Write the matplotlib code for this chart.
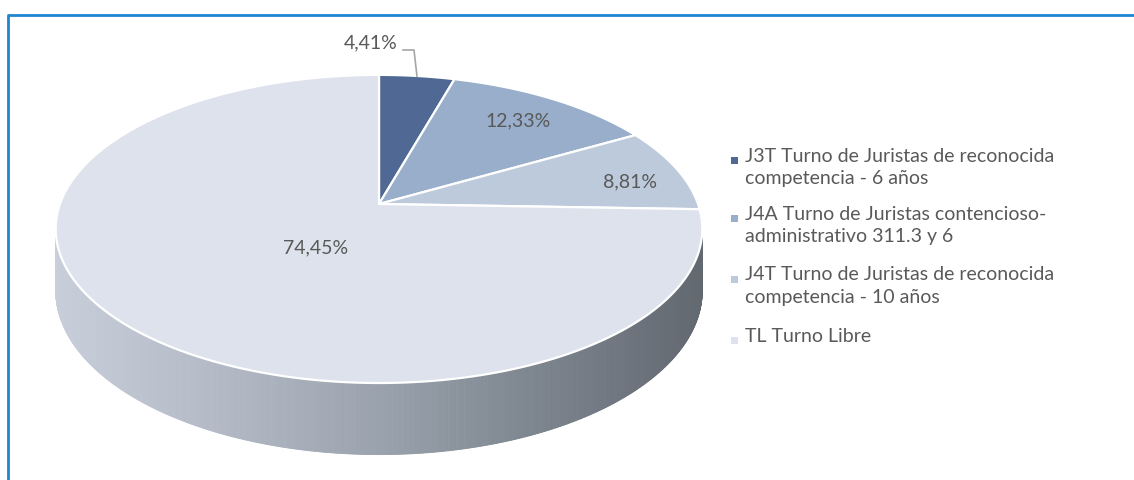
import numpy as np
import matplotlib
matplotlib.use("Agg")
import matplotlib.pyplot as plt
from matplotlib.patches import Polygon
from matplotlib.colors import LinearSegmentedColormap

# ---- data ----
categories = ["J3T Turno de Juristas de reconocida\ncompetencia - 6 años",
              "J4A Turno de Juristas contencioso-\nadministrativo 311.3 y 6",
              "J4T Turno de Juristas de reconocida\ncompetencia - 10 años",
              "TL Turno Libre"]
values = [4.41, 12.33, 8.81, 74.45]
labels = ["4,41%", "12,33%", "8,81%", "74,45%"]
colors = ["#4f6994", "#99aecb", "#bccadc", "#dde2ec"]

W, H = 1134, 480
fig = plt.figure(figsize=(W / 100, H / 100), dpi=100)
ax = fig.add_axes([0, 0, 1, 1])
ax.set_xlim(0, W)
ax.set_ylim(H, 0)
ax.axis("off")

FONT = "Lato"
TXT = "#595959"
FS = 14

# frame
ax.plot([7.5, 7.5, W + 5], [H + 5, 14.5, 14.5], color="#1f86d0", lw=2, solid_capstyle="butt")

# ---- perspective pie geometry ----
cx, cy, a, b, k, depth = 379, 204, 319, 150, 0.162, 60


def proj(phi, d=0.0):
    w = 1 + k * np.sin(phi)
    return cx + a * np.cos(phi) / w, cy - b * np.sin(phi) / w + depth * d / w


# side (front half) with horizontal gradient
side_cmap = LinearSegmentedColormap.from_list(
    "side", ["#c8cfdb", "#b3bac6", "#9aa2ad", "#7b838d", "#626870"])
phis = np.linspace(0, -np.pi, 721)
order = np.argsort(-np.abs(phis[:-1] + np.pi / 2))
xmin, xmax = cx - a * 1.02, cx + a * 1.02
for i in order:
    p0, p1 = phis[i], phis[i + 1]
    x0, y0 = proj(p0)
    x1, y1 = proj(p1)
    x0b, y0b = proj(p0, 1)
    x1b, y1b = proj(p1, 1)
    t = ((x0 + x1) / 2 - xmin) / (xmax - xmin)
    c = side_cmap(np.clip(t, 0, 1))
    ax.add_patch(Polygon([[x0, y0], [x1, y1], [x1b, y1b], [x0b, y0b]],
                         closed=True, facecolor=c, edgecolor=c, lw=0.6))

# top slices
total = sum(values)
start = np.pi / 2
mids = []
for v, col in zip(values, colors):
    sweep = 2 * np.pi * v / total
    ang = np.linspace(start, start - sweep, max(int(v * 8), 8))
    xs, ys = proj(ang)
    pts = [[cx, cy]] + list(zip(xs, ys))
    ax.add_patch(Polygon(pts, closed=True, facecolor=col, edgecolor="white",
                         lw=1.6, joinstyle="round"))
    mids.append(start - sweep / 2)
    start -= sweep

# data labels
label_pos = [(371, 43), (518, 121), (630, 182), (316, 248)]
for lab, (lx, ly) in zip(labels, label_pos):
    ax.text(lx, ly, lab, ha="center", va="center", fontsize=FS,
            color=TXT, family=FONT)

# leader line for smallest slice
mx, my = proj(mids[0])
ax.plot([403, 414, mx], [50, 50, my], color="#a6a6a6", lw=1.2)

# legend
leg_y = [160, 218, 279, 340]
for cat, col, ly in zip(categories, colors, leg_y):
    ax.add_patch(Polygon([[731, ly - 3.5], [738, ly - 3.5], [738, ly + 3.5], [731, ly + 3.5]],
                         closed=True, facecolor=col, edgecolor="none"))
    ax.text(745, ly - 12.5, cat, ha="left", va="top", fontsize=FS, color=TXT,
            family=FONT, linespacing=1.42)

fig.savefig("out.png", dpi=100, facecolor="white")
